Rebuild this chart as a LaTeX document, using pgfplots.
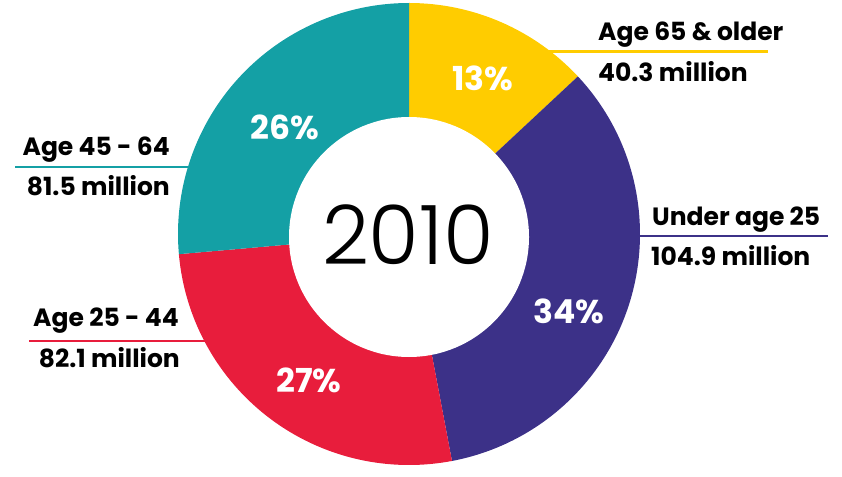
\documentclass[border=0pt]{standalone}
\usepackage{pgfplots}
\pgfplotsset{compat=1.18}
\usepackage{pgfplotstable}
\usepackage{fontspec}
\setmainfont{Poppins}
\newfontfamily\yearfont{Poppins Light}

\definecolor{c65}{RGB}{255,204,0}
\definecolor{cu25}{RGB}{60,49,136}
\definecolor{c25}{RGB}{232,29,60}
\definecolor{c45}{RGB}{20,160,165}

% population in millions, share in percent (order: clockwise from 12 o'clock)
\pgfplotstableread{
value pct
40.3  13
104.9 34
82.1  27
81.5  26
}\agedata

\pgfplotstablegetelem{0}{value}\of\agedata \let\vA\pgfplotsretval
\pgfplotstablegetelem{1}{value}\of\agedata \let\vB\pgfplotsretval
\pgfplotstablegetelem{2}{value}\of\agedata \let\vC\pgfplotsretval
\pgfplotstablegetelem{3}{value}\of\agedata \let\vD\pgfplotsretval
\pgfplotstablegetelem{0}{pct}\of\agedata \let\pA\pgfplotsretval
\pgfplotstablegetelem{1}{pct}\of\agedata \let\pB\pgfplotsretval
\pgfplotstablegetelem{2}{pct}\of\agedata \let\pC\pgfplotsretval
\pgfplotstablegetelem{3}{pct}\of\agedata \let\pD\pgfplotsretval

\pgfmathsetmacro\total{\vA+\vB+\vC+\vD}
\pgfmathsetmacro\aA{90}
\pgfmathsetmacro\aB{\aA-(\vA/\total)*360}
\pgfmathsetmacro\aC{\aB-(\vB/\total)*360}
\pgfmathsetmacro\aD{\aC-(\vC/\total)*360}
\pgfmathsetmacro\aE{\aD-(\vD/\total)*360}

\def\cx{409}
\def\cy{233}
\def\R{231}
\newcommand\slice[3]{%
  \fill[#3] (axis cs:\cx,\cy) -- (axis cs:{\cx+\R*cos(#1)},{\cy+\R*sin(#1)})
    arc[start angle=#1, end angle=#2, radius=\R pt] -- cycle;}

\begin{document}
\begin{tikzpicture}
\begin{axis}[
  width=842pt, height=467pt, scale only axis,
  xmin=0, xmax=842, ymin=0, ymax=467,
  hide axis, clip=false,
  ]
  \path (axis cs:0,0) rectangle (axis cs:842,467);
  % leader lines
  \draw[c65, line width=2.6pt] (axis cs:540,415.5) -- (axis cs:768,415.5);
  \draw[cu25, line width=2.6pt] (axis cs:560,231) -- (axis cs:828,231);
  \draw[c45, line width=2.6pt] (axis cs:15,300) -- (axis cs:250,300);
  \draw[c25, line width=2.6pt] (axis cs:29,126) -- (axis cs:250,126);
  % donut
  \slice{\aA}{\aB}{c65}
  \slice{\aB}{\aC}{cu25}
  \slice{\aC}{\aD}{c25}
  \slice{\aD}{\aE}{c45}
  \fill[white] (axis cs:409,230) circle[radius=120pt];
  \node[font=\yearfont\fontsize{82}{86}\selectfont] at (axis cs:408,232) {2010};
  % shares
  \begin{scope}[every node/.style={font=\bfseries\fontsize{33}{36}\selectfont, text=white}]
    \node at (axis cs:483,389) {\pA\%};
    \node at (axis cs:569,156) {\pB\%};
    \node at (axis cs:309,87) {\pC\%};
    \node at (axis cs:285,340) {\pD\%};
  \end{scope}
  % labels
  \begin{scope}[every node/.style={font=\bfseries\fontsize{25}{28}\selectfont, inner sep=0pt}]
    \node[anchor=base west] at (axis cs:598,426) {Age 65 \& older};
    \node[anchor=base west] at (axis cs:598,385) {\vA{} million};
    \node[anchor=base west] at (axis cs:652,241) {Under age 25};
    \node[anchor=base west] at (axis cs:651,201) {\vB{} million};
    \node[anchor=base east] at (axis cs:179,141) {Age 25 - 44};
    \node[anchor=base east] at (axis cs:180,100) {\vC{} million};
    \node[anchor=base east] at (axis cs:170,311) {Age 45 - 64};
    \node[anchor=base east] at (axis cs:170,271) {\vD{} million};
  \end{scope}
\end{axis}
\end{tikzpicture}
\end{document}
